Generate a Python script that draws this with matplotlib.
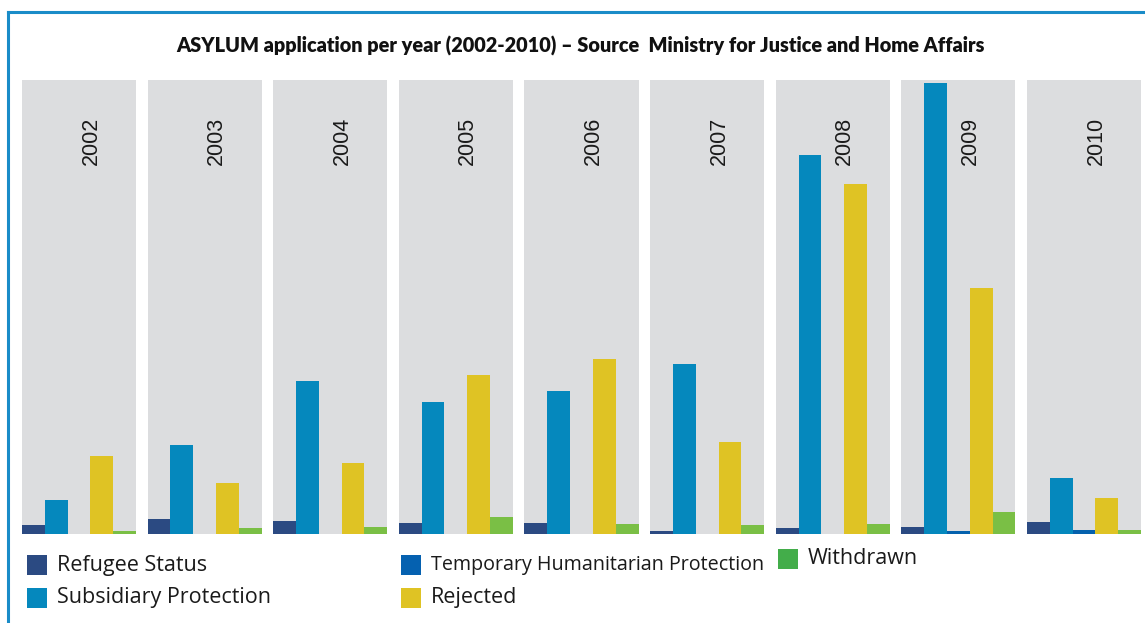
import matplotlib
matplotlib.use("Agg")
import matplotlib.pyplot as plt
from matplotlib.lines import Line2D
from matplotlib.patches import Rectangle

years = ["2002", "2003", "2004", "2005", "2006", "2007", "2008", "2009", "2010"]
series_names = ["Refugee Status", "Subsidiary Protection",
                "Temporary Humanitarian Protection", "Rejected", "Withdrawn"]
refugee = [9, 15, 13, 11, 11, 3, 6, 7, 12]
subsidiary = [34, 89, 153, 132, 143, 170, 379, 451, 56]
temporary = [0, 0, 0, 0, 0, 0, 0, 3, 4]
rejected = [78, 51, 71, 159, 175, 92, 350, 246, 36]
withdrawn = [3, 6, 7, 17, 10, 9, 10, 22, 4]
series = [refugee, subsidiary, temporary, rejected, withdrawn]

bar_colors = ["#2b4a82", "#0588bd", "#0561ad", "#dfc324", "#7abf45"]
legend_colors = ["#2b4a82", "#0588bd", "#0561b0", "#dfc324", "#43ad4a"]
panel_gray = "#dcdddf"
border_blue = "#1a8cc8"

W, H = 1145, 623
fig = plt.figure(figsize=(W / 100, H / 100), dpi=100)
fig.patch.set_facecolor("white")

def fx(px):
    return px / W

def fy(py):
    return 1 - py / H

# border (top and left)
fig.add_artist(Line2D([fx(7.5), fx(W)], [fy(11.5), fy(11.5)], color=border_blue, lw=2.2,
                      transform=fig.transFigure))
fig.add_artist(Line2D([fx(7.5), fx(7.5)], [fy(11.5), fy(H + 5)], color=border_blue, lw=2.2,
                      transform=fig.transFigure))

fig.text(fx(581), fy(46), "ASYLUM application per year (2002-2010) \u2013 Source  Ministry for Justice and Home Affairs",
         ha="center", va="center", fontsize=14.3, fontweight="heavy",
         family=["Lato", "DejaVu Sans"], color="#111111")

gs = fig.add_gridspec(1, len(years), left=fx(22), right=fx(1141), top=fy(80), bottom=fy(534),
                      wspace=11.6 / 114)
ymax = 454
for i, yr in enumerate(years):
    ax = fig.add_subplot(gs[0, i])
    ax.set_facecolor(panel_gray)
    for j, s in enumerate(series):
        ax.bar(j + 0.5, s[i], width=1.0, color=bar_colors[j], linewidth=0)
    ax.set_xlim(0, 5)
    ax.set_ylim(0, ymax)
    ax.set_xticks([])
    ax.set_yticks([])
    for sp in ax.spines.values():
        sp.set_visible(False)
    ax.text(0.605, 0.865, yr, rotation=90, ha="center", va="center", transform=ax.transAxes,
            fontsize=15.5, family=["Liberation Sans", "DejaVu Sans"], color="#1a1a1a")

# legend
leg_items = [
    (0, 27, 555), (1, 27, 588), (2, 401, 555), (3, 401, 588), (4, 778, 549)
]
for idx, lx, ly in leg_items:
    fig.add_artist(Rectangle((fx(lx), fy(ly + 20)), fx(20), 20 / H, transform=fig.transFigure,
                             facecolor=legend_colors[idx], edgecolor="none"))
    fs = 14.2 if idx == 2 else 15.5
    fig.text(fx(lx + 30), fy(ly + 10), series_names[idx], ha="left", va="center",
             fontsize=fs, family=["Open Sans", "DejaVu Sans"], color="#1a1a1a")

fig.savefig("out.png", dpi=100)
